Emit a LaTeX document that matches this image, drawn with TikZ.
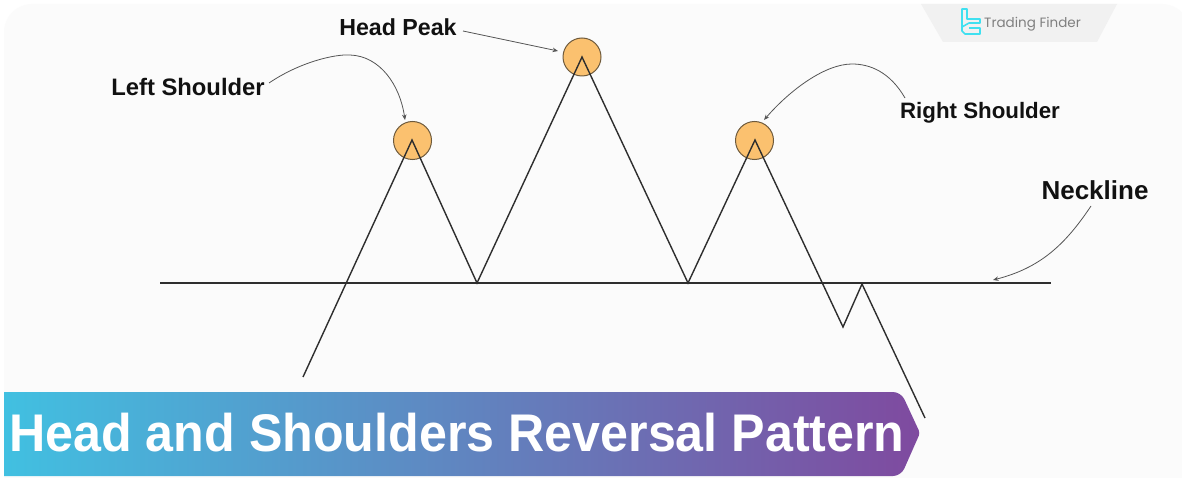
\documentclass[tikz,border=0pt]{standalone}
\usepackage{fontspec}
\setmainfont{Liberation Sans}
\newfontfamily\logofont{Poppins}
\newfontfamily\labfont[BoldFont={Liberation Sans Bold}]{Liberation Sans}
\newfontfamily\titlefont[FakeStretch=0.947]{Liberation Sans Bold}
\usetikzlibrary{arrows.meta,calc}
\definecolor{panel}{HTML}{FBFBFB}
\definecolor{tabgrey}{HTML}{F1F1F1}
\definecolor{peakfill}{HTML}{FBC16F}
\definecolor{peakline}{HTML}{6E5A3C}
\definecolor{priceline}{HTML}{2E2E2E}
\definecolor{callout}{HTML}{555555}
\definecolor{bannerL}{HTML}{41C0E1}
\definecolor{bannerM}{HTML}{5F8AC2}
\definecolor{bannerR}{HTML}{7F4A9F}
\definecolor{logocyan}{HTML}{3FE0F0}
\definecolor{inktext}{HTML}{111111}
\tikzset{
  peak/.style={circle,draw=peakline,fill=peakfill,line width=1pt,minimum size=38pt,inner sep=0pt},
  price/.style={draw=priceline,line width=1.4pt,line join=miter},
  neck/.style={draw=priceline,line width=1.4pt},
  note/.style={-{Stealth[length=5.5pt,width=4.5pt]},draw=callout,line width=0.8pt},
  lab/.style={font=\labfont\bfseries\fontsize{23.8}{26}\selectfont,text=inktext,inner sep=0pt,anchor=center},
  titletext/.style={font=\titlefont\fontsize{53}{56}\selectfont,text=white,inner sep=0pt,anchor=center}
}
\begin{document}
\begin{tikzpicture}[x=1pt,y=-1pt]
\useasboundingbox (0,0) rectangle (1182,478);
\fill[white] (0,0) rectangle (1182,478);
\fill[panel,rounded corners=28pt] (4,4) rectangle (1190,500);
% logo tab
\fill[tabgrey] (921,4) -- (1117,4) -- (1097,42) -- (943,42) -- cycle;
\draw[logocyan,line width=1.6pt,line join=round] (962,9) -- (967,9) -- (967,19) -- (980,19) -- (980,23) -- (969,23) -- (962,27) -- cycle;
\draw[logocyan,line width=1.6pt,line join=round] (962,27) -- (962,31) -- (965,34) -- (980,34) -- (980,28) -- (969,28);
\node[font=\logofont\fontsize{13.5}{15}\selectfont,text=black!50,inner sep=0pt] (logo) at (1032.5,24) {Trading Finder};
% points
\coordinate (start) at (303,377);
\coordinate (p1) at (412,140);
\coordinate (v1) at (477,283);
\coordinate (p2) at (582,57);
\coordinate (v2) at (688,283);
\coordinate (p3) at (755,140);
\coordinate (low) at (843,327);
\coordinate (back) at (862,284);
\coordinate (end) at (925,418);
\coordinate (nl) at (160,283);
\coordinate (nr) at (1051,283);
\coordinate (lsfrom) at (269,83);
\coordinate (lsto) at (405,120);
\coordinate (hpfrom) at (463,31);
\coordinate (hpto) at (558,51);
\coordinate (rsfrom) at (905,98);
\coordinate (rsto) at (764,120);
\coordinate (nkfrom) at (1091,206);
\coordinate (nkto) at (993,280);
% circles
\node[peak] (c1) at (412.5,140.5) {};
\node[peak] (c2) at (582,57) {};
\node[peak] (c3) at (754.5,140.5) {};
% lines
\draw[neck] (nl) -- (nr);
\draw[price] (start) -- (p1) -- (v1) -- (p2) -- (v2) -- (p3) -- (low) -- (back) -- (end);
% labels
\node[lab] (ls) at (188,87) {Left Shoulder};
\node[lab,font=\labfont\bfseries\fontsize{23.2}{26}\selectfont] (hp) at (398,27) {Head Peak};
\node[lab,font=\labfont\bfseries\fontsize{22.3}{26}\selectfont] (rs) at (980,113) {Right Shoulder};
\node[lab,font=\labfont\bfseries\fontsize{26}{28}\selectfont] (nk) at (1095,190) {Neckline};
% callouts
\draw[note] (lsfrom) .. controls (300,62) and (335,54) .. (350,55) .. controls (380,56) and (400,85) .. (lsto);
\draw[note] (hpfrom) -- (hpto);
\draw[note] (rsfrom) .. controls (890,72) and (870,64) .. (852,64) .. controls (825,64) and (790,90) .. (rsto);
\draw[note] (nkfrom) .. controls (1065,245) and (1040,268) .. (nkto);
% banner
\shade[left color=bannerL,middle color=bannerM,right color=bannerR]
  (4,392) [rounded corners=8pt] -- (901,392) [rounded corners=3pt] -- (920,433) [rounded corners=8pt] -- (901,476) [sharp corners] -- (4,476) -- cycle;
\node[titletext] (title) at (457,433) {Head and Shoulders Reversal Pattern};
\end{tikzpicture}
\end{document}
